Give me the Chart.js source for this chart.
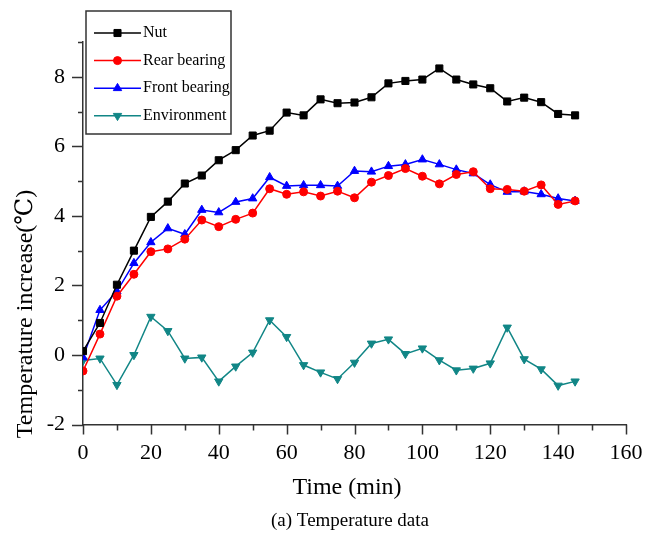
<!DOCTYPE html>
<html>
<head>
<meta charset="utf-8">
<script src="https://cdn.jsdelivr.net/npm/chart.js@4.4.1/dist/chart.umd.min.js"></script>
<style>
  html, body { margin: 0; padding: 0; background: #fff; }
  #wrap { width: 661px; height: 545px; }
</style>
</head>
<body>
<div id="wrap"><canvas id="tempChart" width="661" height="545"></canvas></div>
<script>
// time axis (min)
const time = [0, 5, 10, 15, 20, 25, 30, 35, 40, 45, 50, 55, 60, 65, 70, 75, 80, 85, 90, 95, 100, 105, 110, 115, 120, 125, 130, 135, 140, 145];

// temperature increase (°C)
const nut = [0.11, 0.92, 2.02, 3.0, 3.97, 4.41, 4.93, 5.16, 5.6, 5.89, 6.31, 6.45, 6.97, 6.89, 7.35, 7.24, 7.26, 7.41, 7.81, 7.88, 7.92, 8.24, 7.92, 7.78, 7.67, 7.29, 7.4, 7.27, 6.93, 6.89];
const rearBearing = [-0.46, 0.6, 1.69, 2.32, 2.97, 3.05, 3.33, 3.88, 3.69, 3.9, 4.08, 4.78, 4.62, 4.69, 4.57, 4.71, 4.52, 4.97, 5.16, 5.36, 5.14, 4.92, 5.19, 5.27, 4.78, 4.76, 4.71, 4.89, 4.33, 4.43];
const frontBearing = [-0.07, 1.29, 1.83, 2.64, 3.24, 3.64, 3.47, 4.17, 4.1, 4.4, 4.5, 5.11, 4.86, 4.88, 4.88, 4.86, 5.29, 5.27, 5.43, 5.48, 5.62, 5.48, 5.33, 5.22, 4.9, 4.69, 4.7, 4.62, 4.5, 4.43];
const environment = [-0.16, -0.1, -0.86, 0.0, 1.1, 0.69, -0.1, -0.07, -0.76, -0.33, 0.07, 1.0, 0.52, -0.29, -0.5, -0.69, -0.22, 0.33, 0.45, 0.03, 0.19, -0.15, -0.44, -0.39, -0.24, 0.79, -0.12, -0.41, -0.88, -0.76];

const seriesNames = ['Nut', 'Rear bearing', 'Front bearing', 'Environment'];
const xTickLabels = [0, 20, 40, 60, 80, 100, 120, 140, 160];
const yTickLabels = [-2, 0, 2, 4, 6, 8];

const SERIF = '"Liberation Serif", "Times New Roman", "DejaVu Serif", serif';
const AXIS_COLOR = '#333';

function toPoints(values) {
    return time.map((t, i) => ({ x: t, y: values[i] }));
}

function makeSet(label, values, color, style, radius, rotation) {
    return {
        label: label,
        data: toPoints(values),
        borderColor: color,
        backgroundColor: color,
        borderWidth: 1.5,
        pointStyle: style,
        pointRadius: radius,
        pointRotation: rotation || 0,
        pointBorderWidth: 1,
        pointBorderColor: color,
        pointBackgroundColor: color,
        tension: 0,
        fill: false
    };
}

// tick marks (major / minor), drawn on the library's scales
const tickMarks = {
    id: 'tickMarks',
    afterDraw(chart) {
        const { ctx, chartArea } = chart;
        const xs = chart.scales.x;
        const ys = chart.scales.y;
        ctx.save();
        ctx.strokeStyle = AXIS_COLOR;
        ctx.lineWidth = 1.5;
        ctx.beginPath();
        xs.ticks.forEach(t => {
            const px = Math.round(xs.getPixelForValue(t.value)) + 0.5;
            const len = xTickLabels.includes(t.value) ? 10 : 6;
            ctx.moveTo(px, chartArea.bottom);
            ctx.lineTo(px, chartArea.bottom + len);
        });
        ys.ticks.forEach(t => {
            const py = Math.round(ys.getPixelForValue(t.value)) + 0.5;
            const len = yTickLabels.includes(t.value) ? 11 : 5;
            ctx.moveTo(chartArea.left - len, py);
            ctx.lineTo(chartArea.left, py);
        });
        ctx.stroke();
        ctx.restore();
    }
};

// axis titles and caption
const titles = {
    id: 'titles',
    afterDraw(chart) {
        const ctx = chart.ctx;
        ctx.save();
        ctx.fillStyle = '#000';
        ctx.textAlign = 'center';
        ctx.textBaseline = 'middle';

        ctx.font = '24px ' + SERIF;
        ctx.save();
        ctx.translate(26, 314);
        ctx.rotate(-Math.PI / 2);
        ctx.fillText('Temperature increase(℃)', 0, 0);
        ctx.restore();

        ctx.fillText('Time (min)', 347, 488);

        ctx.font = '19px ' + SERIF;
        ctx.fillText('(a) Temperature data', 350, 521);
        ctx.restore();
    }
};

// boxed legend in the upper-left corner
const boxLegend = {
    id: 'boxLegend',
    afterDraw(chart) {
        const ctx = chart.ctx;
        const box = { x: 86, y: 11, w: 145, h: 123 };
        ctx.save();
        ctx.fillStyle = '#fff';
        ctx.fillRect(box.x, box.y, box.w, box.h);
        ctx.strokeStyle = AXIS_COLOR;
        ctx.lineWidth = 1.5;
        ctx.strokeRect(box.x, box.y, box.w, box.h);

        ctx.font = '16px ' + SERIF;
        ctx.textBaseline = 'middle';
        ctx.textAlign = 'left';
        chart.data.datasets.forEach((ds, i) => {
            const y = 33 + i * 27.6;
            ctx.strokeStyle = ds.borderColor;
            ctx.lineWidth = 1.5;
            ctx.beginPath();
            ctx.moveTo(94, y);
            ctx.lineTo(141, y);
            ctx.stroke();
            ctx.fillStyle = ds.pointBackgroundColor;
            ctx.strokeStyle = ds.pointBorderColor;
            ctx.lineWidth = 1;
            Chart.helpers.drawPoint(ctx, {
                pointStyle: ds.pointStyle,
                rotation: ds.pointRotation,
                radius: ds.pointRadius,
                borderWidth: 1
            }, 117.5, y);
            ctx.fillStyle = '#000';
            ctx.fillText(ds.label, 143, y);
        });
        ctx.restore();
    }
};

const ctx = document.getElementById('tempChart').getContext('2d');

new Chart(ctx, {
    type: 'line',
    data: {
        datasets: [
            makeSet(seriesNames[0], nut, '#000000', 'rect', 5),
            makeSet(seriesNames[1], rearBearing, '#ff0000', 'circle', 4),
            makeSet(seriesNames[2], frontBearing, '#0000ff', 'triangle', 4.8),
            makeSet(seriesNames[3], environment, '#118686', 'triangle', 4.8, 180)
        ]
    },
    options: {
        responsive: false,
        animation: false,
        layout: {
            padding: { top: 42, right: 35, left: 0, bottom: 0 }
        },
        plugins: {
            legend: { display: false },
            title: { display: false },
            tooltip: { enabled: false }
        },
        scales: {
            x: {
                type: 'linear',
                min: 0,
                max: 160,
                grid: { display: true, drawOnChartArea: false, drawTicks: false },
                border: { display: true, color: AXIS_COLOR, width: 1.5 },
                ticks: {
                    stepSize: 10,
                    autoSkip: false,
                    maxRotation: 0,
                    padding: 16,
                    color: '#000',
                    font: { family: SERIF, size: 22 },
                    callback: v => xTickLabels.includes(v) ? String(v) : ''
                },
                afterFit: scale => { scale.height = 120.5; }
            },
            y: {
                min: -2,
                max: 9,
                grid: { display: true, drawOnChartArea: false, drawTicks: false },
                border: { display: true, color: AXIS_COLOR, width: 1.5 },
                ticks: {
                    stepSize: 1,
                    autoSkip: false,
                    padding: 18,
                    color: '#000',
                    font: { family: SERIF, size: 22 },
                    callback: v => yTickLabels.includes(v) ? String(v) : ''
                },
                afterFit: scale => { scale.width = 83; }
            }
        }
    },
    plugins: [tickMarks, titles, boxLegend]
});
</script>
</body>
</html>
